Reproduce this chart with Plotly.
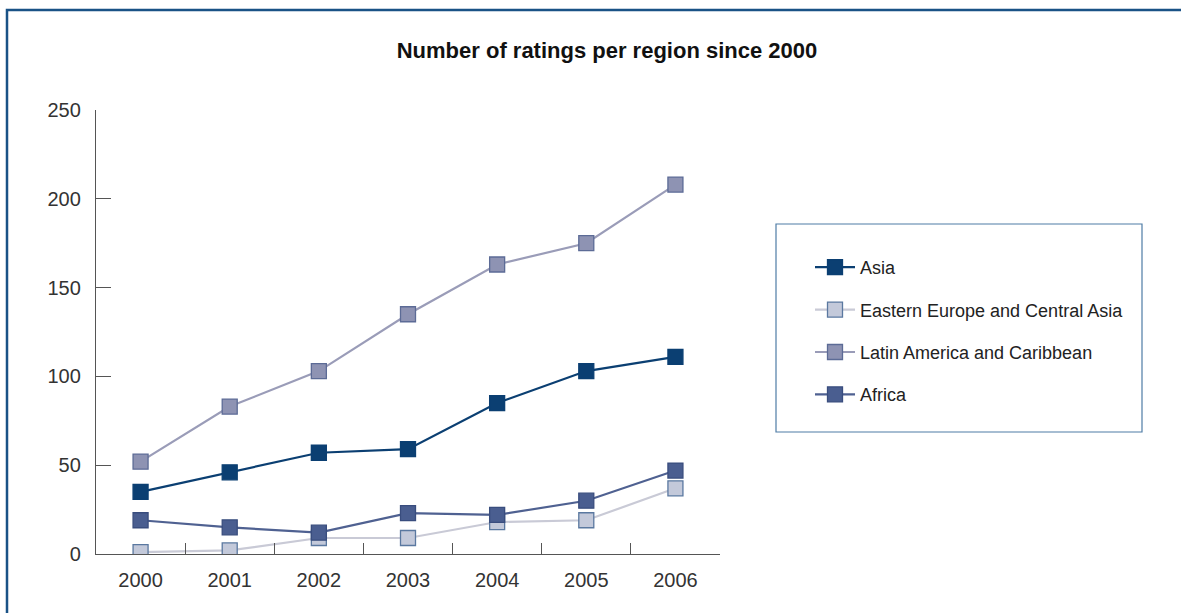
import plotly.graph_objects as go

years = ["2000", "2001", "2002", "2003", "2004", "2005", "2006"]
asia = [35, 46, 57, 59, 85, 103, 111]
eastern_europe = [1, 2, 9, 9, 18, 19, 37]
latin_america = [52, 83, 103, 135, 163, 175, 208]
africa = [19, 15, 12, 23, 22, 30, 47]

series_names = ["Asia", "Eastern Europe and Central Asia", "Latin America and Caribbean", "Africa"]
series_values = [asia, eastern_europe, latin_america, africa]
line_colors = ["#0b3f72", "#c9cad6", "#9a9cb8", "#4f6191"]
fill_colors = ["#0b3f72", "#c3c9da", "#8e93b3", "#4a5e90"]
edge_colors = ["#0b3f72", "#5a78a0", "#5c6b96", "#394d7e"]

W, H = 1181, 613
L, R, T, B = 96, 461, 110, 59
pw, ph = W - L - R, H - T - B

def px(x):
    return (x - L) / pw

def py(y):
    return (H - B - y) / ph

fig = go.Figure()
# draw order: light ones first so darker ones sit on top
order = [1, 2, 3, 0]
for i in order:
    fig.add_trace(go.Scatter(
        x=years, y=series_values[i], name=series_names[i],
        mode="lines+markers",
        line=dict(color=line_colors[i], width=2.2),
        marker=dict(symbol="square", size=15, color=fill_colors[i],
                    line=dict(color=edge_colors[i], width=1.3)),
        legendgroup=series_names[i], legendrank=i + 1,
    ))

fig.update_layout(
    width=W, height=H,
    margin=dict(l=L, r=R, t=T, b=B),
    paper_bgcolor="white", plot_bgcolor="white",
    font=dict(family="Liberation Sans, Arial, sans-serif", color="#333333"),
    title=dict(text="<b>Number of ratings per region since 2000</b>",
               x=px(607), xref="paper", xanchor="center",
               y=1 - 50 / H, yanchor="middle",
               font=dict(size=22, color="#111111", family="Liberation Sans, Arial, sans-serif")),
    showlegend=True,
    legend=dict(x=px(810), y=py(249), xanchor="left", yanchor="top",
                bgcolor="rgba(0,0,0,0)", borderwidth=0,
                font=dict(size=18, color="#222222"),
                tracegroupgap=16, itemwidth=40, traceorder="grouped"),
    xaxis=dict(type="category", range=[-0.5, 6.5], showgrid=False, zeroline=False,
               showline=True, linecolor="#555555", linewidth=1.3,
               ticks="inside", tickson="boundaries", ticklen=11, tickcolor="#555555",
               tickwidth=1.3, tickfont=dict(size=20, color="#333333"), ticklabelstandoff=8),
    yaxis=dict(range=[0, 250], dtick=50, showgrid=False, zeroline=False,
               showline=True, linecolor="#555555", linewidth=1.3,
               ticks="inside", ticklen=15, tickcolor="#555555", tickwidth=1.3,
               tickfont=dict(size=20, color="#333333"), ticklabelstandoff=10),
    shapes=[
        dict(type="rect", xref="paper", yref="paper",
             x0=px(7), x1=px(1400), y0=py(800), y1=py(10),
             line=dict(color="#1a5286", width=2.5), fillcolor="rgba(0,0,0,0)", layer="below"),
        dict(type="rect", xref="paper", yref="paper",
             x0=px(776), x1=px(1142), y0=py(432), y1=py(224),
             line=dict(color="#4f7ca6", width=1.2), fillcolor="rgba(0,0,0,0)"),
    ],
)

fig.write_html("out.html")
